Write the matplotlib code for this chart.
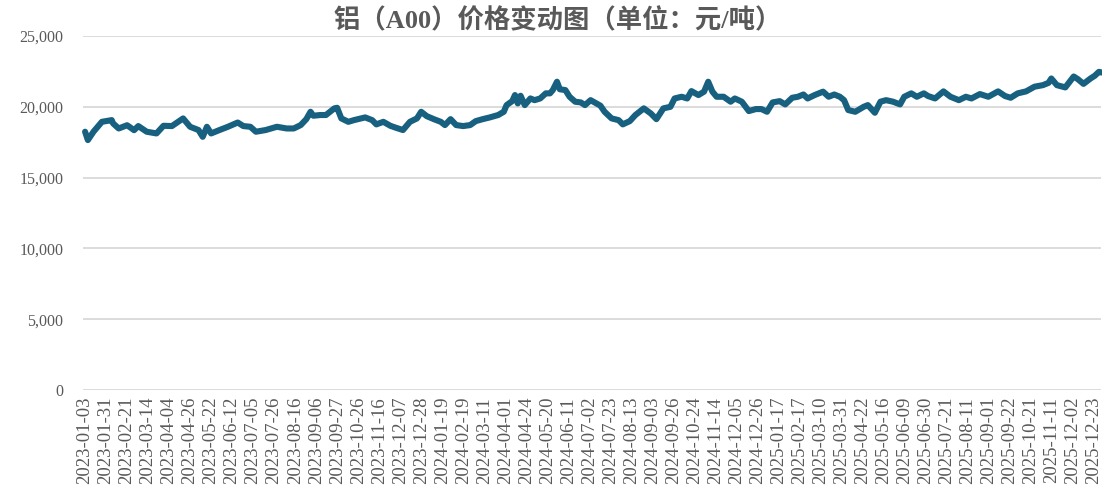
import matplotlib
matplotlib.use('Agg')
import matplotlib.pyplot as plt

# 交易日序号（自2023-01-03起）与对应价格（元/吨）
day_idx = [0, 2, 6, 12, 19, 20, 24, 30, 35, 38, 44, 51, 56, 62, 70, 75, 81, 84, 87, 90,
           96, 102, 109, 113, 118, 122, 129, 137, 144, 149, 154, 158, 161, 163, 168, 172, 178, 180, 183, 188,
           192, 200, 205, 208, 213, 218, 222, 227, 232, 237, 240, 244, 249, 254, 257, 261, 265, 270, 275, 279,
           284, 289, 295, 299, 301, 305, 307, 309, 311, 314, 318, 321, 325, 329, 332, 334, 337, 339, 343, 346,
           350, 354, 357, 361, 368, 371, 376, 381, 384, 389, 393, 399, 404, 408, 413, 418, 421, 426, 430, 433,
           438, 442, 445, 448, 451, 456, 461, 464, 469, 474, 479, 483, 487, 491, 496, 500, 505, 509, 513, 516,
           521, 527, 531, 535, 539, 542, 545, 550, 556, 559, 564, 568, 572, 577, 582, 585, 590, 594, 599, 602,
           607, 613, 618, 624, 629, 633, 639, 645, 652, 657, 661, 666, 672, 678, 684, 688, 690, 694, 700, 706,
           709, 713, 718, 721, 724, 726]
price = [18240, 17650, 18240, 18940, 19060, 18830, 18470, 18700, 18350, 18640, 18240, 18120, 18660, 18640, 19180, 18590, 18360, 17880, 18590, 18120,
         18360, 18590, 18890, 18640, 18590, 18240, 18360, 18590, 18470, 18470, 18710, 19130, 19650, 19370, 19420, 19420, 19890, 19930, 19180, 18940,
         19060, 19250, 19060, 18760, 18940, 18660, 18520, 18360, 18940, 19180, 19650, 19340, 19130, 18940, 18710, 19130, 18710, 18640, 18710, 18990,
         19130, 19250, 19420, 19650, 20120, 20400, 20830, 20240, 20780, 20120, 20590, 20470, 20590, 20950, 20950, 21180, 21770, 21240, 21180, 20710,
         20360, 20310, 20120, 20470, 20080, 19650, 19180, 19060, 18760, 18990, 19420, 19890, 19530, 19130, 19890, 20000, 20590, 20710, 20590, 21110,
         20830, 21070, 21770, 21070, 20710, 20710, 20360, 20590, 20360, 19700, 19840, 19840, 19650, 20310, 20400, 20170, 20640, 20710, 20870, 20590,
         20830, 21070, 20710, 20870, 20710, 20470, 19770, 19650, 20000, 20120, 19580, 20360, 20470, 20360, 20170, 20710, 20950, 20710, 20950, 20760,
         20590, 21090, 20710, 20470, 20710, 20590, 20900, 20710, 21090, 20760, 20640, 20950, 21090, 21420, 21530, 21690, 22000, 21530, 21370, 22140,
         21950, 21620, 22000, 22190, 22470, 22420]

tick_labels = ['2023-01-03', '2023-01-31', '2023-02-21', '2023-03-14', '2023-04-04', '2023-04-26', '2023-05-22',
               '2023-06-12', '2023-07-05', '2023-07-26', '2023-08-16', '2023-09-06', '2023-09-27', '2023-10-26',
               '2023-11-16', '2023-12-07', '2023-12-28', '2024-01-19', '2024-02-19', '2024-03-11', '2024-04-01',
               '2024-04-24', '2024-05-20', '2024-06-11', '2024-07-02', '2024-07-23', '2024-08-13', '2024-09-03',
               '2024-09-26', '2024-10-24', '2024-11-14', '2024-12-05', '2024-12-26', '2025-01-17', '2025-02-17',
               '2025-03-10', '2025-03-31', '2025-04-22', '2025-05-16', '2025-06-09', '2025-06-30', '2025-07-21',
               '2025-08-11', '2025-09-01', '2025-09-22', '2025-10-21', '2025-11-11', '2025-12-02', '2025-12-23']
tick_step = 15
y_ticks = [0, 5000, 10000, 15000, 20000, 25000]

serif = ['Liberation Serif', 'Noto Sans CJK SC']
gray = '#595959'

fig = plt.figure(figsize=(11.02, 4.9), dpi=100)
ax = fig.add_axes([0.0753, 0.2041, 0.9238, 0.7224])

ax.plot(day_idx, price, color='#17607f', lw=4.4, solid_capstyle='round',
        solid_joinstyle='round', clip_on=False, zorder=3)

ax.set_xlim(-1.5, 725.5)
ax.set_ylim(0, 25000)
ax.set_yticks(y_ticks)
ax.set_yticklabels([f'{v:,}' for v in y_ticks], family=serif, fontsize=11.5, color=gray)
ax.set_xticks([i * tick_step for i in range(len(tick_labels))])
ax.set_xticklabels(tick_labels, rotation=90, family=serif, fontsize=13.5, color=gray)
ax.tick_params(axis='y', length=0, pad=14)
ax.tick_params(axis='x', length=0, pad=5)
ax.grid(axis='y', color='#d9d9d9', lw=1.3)
ax.set_axisbelow(True)
for s in ax.spines.values():
    s.set_visible(False)

fig.text(0.506, 0.959, '铝（A00）价格变动图（单位：元/吨）', ha='center', va='center',
         family=serif, fontsize=19, fontweight='bold', color=gray)

fig.savefig('out.png', dpi=100)
